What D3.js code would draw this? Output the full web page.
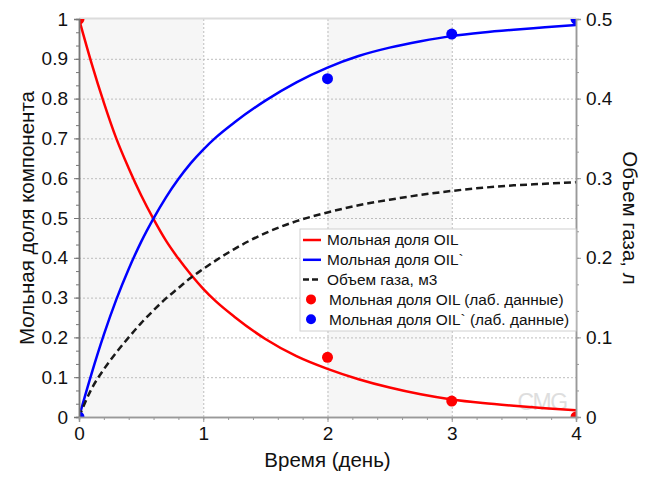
<!DOCTYPE html>
<html>
<head>
<meta charset="utf-8">
<script src="https://cdn.jsdelivr.net/npm/d3@7"></script>
<style>
  body { margin: 0; background: #fff; }
  svg { display: block; font-family: "Liberation Sans", Arial, sans-serif; }
</style>
</head>
<body>
<svg id="chart" width="647" height="477"></svg>
<script>
// --- data ---
const days = [0, 0.1, 0.2, 0.3, 0.4, 0.5, 0.6, 0.7, 0.8, 0.9, 1.0, 1.1, 1.25, 1.5, 1.75, 2.0, 2.25, 2.5, 2.75, 3.0, 3.25, 3.5, 3.75, 4.0];
const oilFrac = [1.0, 0.89, 0.79, 0.70, 0.625, 0.557, 0.497, 0.443, 0.398, 0.358, 0.322, 0.291, 0.252, 0.196, 0.153, 0.121, 0.095, 0.074, 0.057, 0.044, 0.035, 0.028, 0.022, 0.017];
const oilPrimeFrac = [0, 0.108, 0.207, 0.295, 0.372, 0.44, 0.499, 0.552, 0.598, 0.638, 0.672, 0.702, 0.740, 0.795, 0.841, 0.878, 0.907, 0.928, 0.944, 0.957, 0.966, 0.973, 0.979, 0.985];

const gasDays = [0, 0.1, 0.2, 0.3, 0.4, 0.5, 0.6, 0.7, 0.8, 0.9, 1.0, 1.25, 1.5, 1.75, 2.0, 2.25, 2.5, 2.75, 3.0, 3.25, 3.5, 3.75, 4.0];
const gasVolume = [0, 0.035, 0.06, 0.081, 0.100, 0.118, 0.134, 0.149, 0.162, 0.175, 0.186, 0.211, 0.231, 0.246, 0.257, 0.266, 0.273, 0.279, 0.284, 0.288, 0.291, 0.293, 0.295];

const labDays = [0, 2, 3, 4];
const labOil = [1, 0.15, 0.04, 0];
const labOilPrime = [0, 0.85, 0.962, 1];

const xTicks = [0, 1, 2, 3, 4];
const yLeftTicks = [0, 0.1, 0.2, 0.3, 0.4, 0.5, 0.6, 0.7, 0.8, 0.9, 1];
const yRightTicks = [0, 0.1, 0.2, 0.3, 0.4, 0.5];
const shadedBands = [[0, 1], [2, 3]];

const legendItems = [
  { label: "Мольная доля OIL", kind: "line", color: "#ff0000" },
  { label: "Мольная доля OIL`", kind: "line", color: "#0000ff" },
  { label: "Объем газа, м3", kind: "dash", color: "#1a1a1a" },
  { label: "Мольная доля OIL (лаб. данные)", kind: "dot", color: "#ff0000" },
  { label: "Мольная доля OIL` (лаб. данные)", kind: "dot", color: "#0000ff" }
];

// --- layout ---
const M = { t: 19, r: 71, b: 60, l: 79 };
const W = 647, H = 477;
const innerW = W - M.l - M.r, innerH = H - M.t - M.b;

const svg = d3.select("#chart");
const g = svg.append("g").attr("transform", `translate(${M.l},${M.t})`);

const x = d3.scaleLinear().domain([0, 4]).range([0, innerW]);
const yL = d3.scaleLinear().domain([0, 1]).range([innerH, 0]);
const yR = d3.scaleLinear().domain([0, 0.5]).range([innerH, 0]);
const fmt = d => String(+d.toFixed(1));

svg.append("defs").append("clipPath").attr("id", "plotclip")
  .append("rect").attr("width", innerW).attr("height", innerH);

// background bands
g.append("g").selectAll("rect").data(shadedBands).join("rect")
  .attr("x", d => x(d[0])).attr("width", d => x(d[1]) - x(d[0]))
  .attr("y", 0).attr("height", innerH)
  .attr("fill", "#f6f6f6");

// grid
g.append("g").attr("class", "grid")
  .call(d3.axisLeft(yL).tickValues(yLeftTicks.slice(1, -1)).tickSize(-innerW).tickFormat(""))
  .call(s => s.select(".domain").remove())
  .selectAll("line").attr("stroke", "#bdbdbd").attr("stroke-dasharray", "2,2");
g.append("g").attr("class", "grid").attr("transform", `translate(0,${innerH})`)
  .call(d3.axisBottom(x).tickValues(xTicks.slice(1, -1)).tickSize(-innerH).tickFormat(""))
  .call(s => s.select(".domain").remove())
  .selectAll("line").attr("stroke", "#bdbdbd").attr("stroke-dasharray", "2,2");

// top frame
g.append("line").attr("x1", 0).attr("x2", innerW).attr("y1", -0.5).attr("y2", -0.5)
  .attr("stroke", "#dcdcdc").attr("stroke-width", 2);

// watermark
g.append("text").attr("x", innerW - 34).attr("y", innerH - 7)
  .attr("text-anchor", "middle").attr("font-size", 23)
  .attr("fill", "#dedede").attr("letter-spacing", -1.5).text("CMG");

// curves
const plot = g.append("g").attr("clip-path", "url(#plotclip)");
const lineL = d3.line().x(d => x(d[0])).y(d => yL(d[1])).curve(d3.curveMonotoneX);
const lineR = d3.line().x(d => x(d[0])).y(d => yR(d[1])).curve(d3.curveMonotoneX);

plot.append("path").datum(d3.zip(days, oilFrac)).attr("d", lineL)
  .attr("fill", "none").attr("stroke", "#ff0000").attr("stroke-width", 2.5);
plot.append("path").datum(d3.zip(days, oilPrimeFrac)).attr("d", lineL)
  .attr("fill", "none").attr("stroke", "#0000ff").attr("stroke-width", 2.5);
plot.append("path").datum(d3.zip(gasDays, gasVolume)).attr("d", lineR)
  .attr("fill", "none").attr("stroke", "#1a1a1a").attr("stroke-width", 2.5)
  .attr("stroke-dasharray", "7,4");

plot.append("g").selectAll("circle").data(d3.zip(labDays, labOil)).join("circle")
  .attr("cx", d => x(d[0])).attr("cy", d => yL(d[1])).attr("r", 5.5).attr("fill", "#ff0000");
plot.append("g").selectAll("circle").data(d3.zip(labDays, labOilPrime)).join("circle")
  .attr("cx", d => x(d[0])).attr("cy", d => yL(d[1])).attr("r", 5.5).attr("fill", "#0000ff");

// axes
function styleAxis(s, color) {
  s.select(".domain").attr("stroke", color).attr("stroke-width", 1.5);
  s.selectAll(".tick line").attr("stroke", color);
  s.selectAll("text").attr("fill", "#111").attr("font-size", 19).attr("font-family", null);
}

// left
g.append("g")
  .call(d3.axisLeft(yL).tickValues(d3.range(0, 1.0001, 0.1 / 3)).tickSize(3).tickFormat(""))
  .call(s => styleAxis(s, "#777"));
g.append("g")
  .call(d3.axisLeft(yL).tickValues(yLeftTicks).tickSize(5).tickPadding(6).tickFormat(fmt))
  .call(s => styleAxis(s, "#777"));

// right
g.append("g").attr("transform", `translate(${innerW},0)`)
  .call(d3.axisRight(yR).tickValues(d3.range(0, 0.5001, 0.1 / 3)).tickSize(3).tickFormat(""))
  .call(s => styleAxis(s, "#999"));
g.append("g").attr("transform", `translate(${innerW},0)`)
  .call(d3.axisRight(yR).tickValues(yRightTicks).tickSize(5).tickPadding(5).tickFormat(fmt))
  .call(s => styleAxis(s, "#999"));

// bottom
g.append("g").attr("transform", `translate(0,${innerH})`)
  .call(d3.axisBottom(x).tickValues(d3.range(0, 4.0001, 0.2)).tickSize(3).tickFormat(""))
  .call(s => styleAxis(s, "#999"));
g.append("g").attr("transform", `translate(0,${innerH})`)
  .call(d3.axisBottom(x).tickValues(xTicks).tickSize(5).tickPadding(5).tickFormat(fmt))
  .call(s => styleAxis(s, "#999"));

// axis titles
svg.append("text").attr("transform", `translate(${M.l + innerW / 2},${H - 10})`)
  .attr("text-anchor", "middle").attr("font-size", 20.5).attr("fill", "#111").text("Время (день)");
svg.append("text").attr("transform", `translate(27,${M.t + innerH / 2}) rotate(-90)`)
  .attr("text-anchor", "middle").attr("dy", "0.35em").attr("font-size", 20.5).attr("fill", "#111")
  .text("Мольная доля компонента");
svg.append("text").attr("transform", `translate(630,${M.t + innerH / 2}) rotate(90)`)
  .attr("text-anchor", "middle").attr("dy", "0.35em").attr("font-size", 20.5).attr("fill", "#111")
  .text("Объем газа, л");

// legend
const lg = svg.append("g").attr("transform", "translate(300,229)");
lg.append("rect").attr("width", 276).attr("height", 102)
  .attr("fill", "#fff").attr("stroke", "#d0d0d0");
const rows = lg.selectAll("g.row").data(legendItems).join("g")
  .attr("class", "row").attr("transform", (d, i) => `translate(0,${11 + i * 19.8})`);
rows.filter(d => d.kind !== "dot").append("line")
  .attr("x1", 3).attr("x2", 21).attr("stroke", d => d.color).attr("stroke-width", 2.5)
  .attr("stroke-dasharray", d => d.kind === "dash" ? "6,3" : null);
rows.filter(d => d.kind === "dot").append("circle")
  .attr("cx", 11).attr("r", 5).attr("fill", d => d.color);
rows.append("text")
  .attr("x", d => d.kind === "dot" ? 29 : 27).attr("dy", "0.35em")
  .attr("font-size", 15.4).attr("fill", "#111").text(d => d.label);
</script>
</body>
</html>
